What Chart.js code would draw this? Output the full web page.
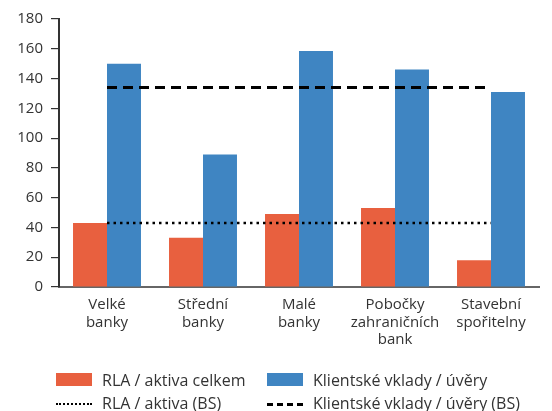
<!DOCTYPE html>
<html>
<head>
<meta charset="utf-8">
<script src="https://cdn.jsdelivr.net/npm/chart.js@4/dist/chart.umd.min.js"></script>
<style>
  html, body { margin: 0; padding: 0; background: #fff; }
  #wrap { position: relative; width: 552px; height: 411px; overflow: hidden; font-family: "Open Sans", sans-serif; color: #333; }
  #c { position: absolute; left: 0; top: 0; }
  .lg { position: absolute; font-size: 16px; line-height: 22px; white-space: nowrap; }
  .sym { position: absolute; }
</style>
</head>
<body>
<div id="wrap">
  <canvas id="c" width="552" height="411"></canvas>
  <div id="legend"></div>
</div>
<script>
const categories = [['Velké', 'banky'], ['Střední', 'banky'], ['Malé', 'banky'], ['Pobočky', 'zahraničních', 'bank'], ['Stavební', 'spořitelny']];
const rlaAktivaCelkem = [43, 33, 49, 53, 18];
const klientskeVkladyUvery = [150, 89, 158.5, 146, 131];
const rlaAktivaBS = [43, 43, 43, 43, 43];
const klientskeVkladyUveryBS = [134, 134, 134, 134, 134];
const yTicks = [0, 20, 40, 60, 80, 100, 120, 140, 160, 180];
const seriesLabels = ['RLA / aktiva celkem', 'Klientské vklady / úvěry', 'RLA / aktiva (BS)', 'Klientské vklady / úvěry (BS)'];

const RED = '#E8603F';
const BLUE = '#3F85C2';
const TXT = '#333333';
const FONT = '"Open Sans", sans-serif';

const chart = new Chart(document.getElementById('c'), {
  type: 'bar',
  data: {
    labels: categories,
    datasets: [
      { type: 'line', label: seriesLabels[2], data: rlaAktivaBS, borderColor: '#000', borderWidth: 2.5, borderDash: [2.5, 4], pointRadius: 0, fill: false, order: 0 },
      { type: 'line', label: seriesLabels[3], data: klientskeVkladyUveryBS, borderColor: '#000', borderWidth: 3, borderDash: [10, 6], pointRadius: 0, fill: false, order: 0 },
      { label: seriesLabels[0], data: rlaAktivaCelkem, backgroundColor: RED, categoryPercentage: 0.708, barPercentage: 1, order: 1 },
      { label: seriesLabels[1], data: klientskeVkladyUvery, backgroundColor: BLUE, categoryPercentage: 0.708, barPercentage: 1, order: 1 }
    ]
  },
  options: {
    responsive: false,
    animation: false,
    layout: { padding: { left: 0, top: 19, right: 13, bottom: 54 } },
    plugins: { legend: { display: false }, tooltip: { enabled: false } },
    scales: {
      x: {
        offset: true,
        grid: { display: true, drawOnChartArea: false, drawTicks: false },
        border: { color: '#666', width: 2 },
        ticks: { color: TXT, font: { family: FONT, size: 15, lineHeight: 1.17 }, padding: 9, maxRotation: 0, autoSkip: false },
        afterFit: s => { s.height = 70; }
      },
      y: {
        min: 0, max: 180,
        afterBuildTicks: s => { s.ticks = yTicks.map(v => ({ value: v })); },
        grid: { display: true, drawOnChartArea: false, drawTicks: true, tickLength: 8, color: '#333', lineWidth: 1.2 },
        border: { color: '#333', width: 2 },
        ticks: { color: TXT, font: { family: FONT, size: 15 }, padding: 8 },
        afterFit: s => { s.width = 59; }
      }
    }
  }
});

// HTML legend (2x2 grid)
const legendItems = [
  { text: seriesLabels[0], kind: 'box', color: RED, x: 56, y: 369 },
  { text: seriesLabels[1], kind: 'box', color: BLUE, x: 267, y: 369 },
  { text: seriesLabels[2], kind: 'dot', x: 56, y: 392 },
  { text: seriesLabels[3], kind: 'dash', x: 267, y: 392 }
];
const lg = document.getElementById('legend');
legendItems.forEach(it => {
  const s = document.createElement('div');
  s.className = 'sym';
  s.style.left = it.x + 'px';
  if (it.kind === 'box') {
    s.style.top = (it.y + 4) + 'px'; s.style.width = '36px'; s.style.height = '13px'; s.style.background = it.color;
  } else if (it.kind === 'dot') {
    s.style.top = (it.y + 11) + 'px'; s.style.width = '36px'; s.style.height = '0';
    s.style.borderTop = '2.5px dotted #000';
  } else {
    s.style.top = (it.y + 11) + 'px'; s.style.width = '36px'; s.style.height = '0';
    s.style.borderTop = '3px dashed #000';
  }
  lg.appendChild(s);
  const t = document.createElement('div');
  t.className = 'lg';
  t.style.left = (it.x + 46) + 'px';
  t.style.top = it.y + 'px';
  t.textContent = it.text;
  lg.appendChild(t);
});
</script>
</body>
</html>
